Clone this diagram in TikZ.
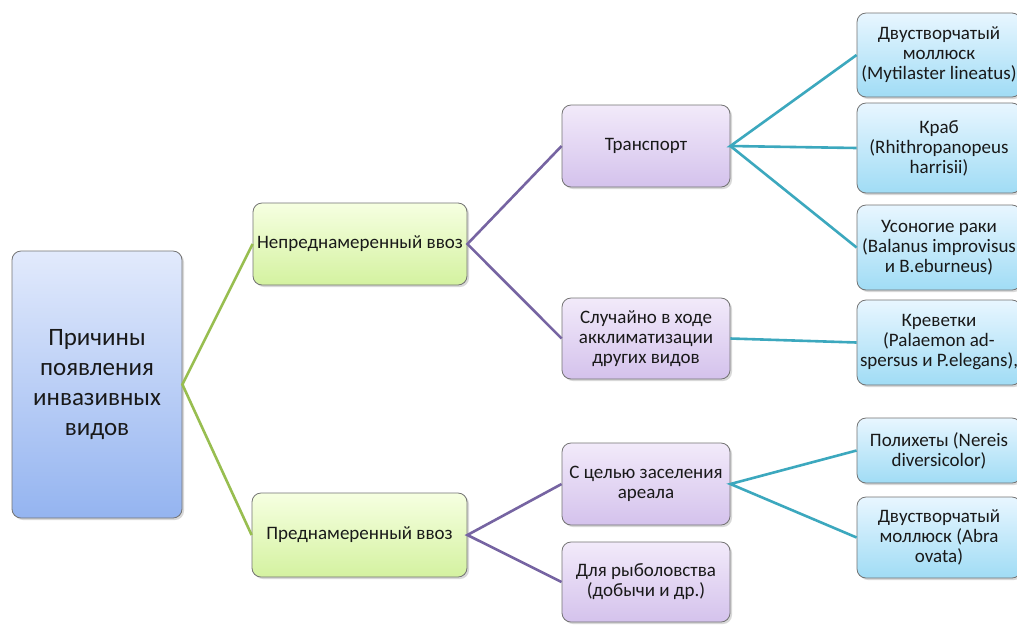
\documentclass[tikz,border=0pt]{standalone}
\usepackage{fontspec}
\setmainfont{Carlito}
\usetikzlibrary{shadows}
\tikzset{
  box/.style={draw=black!55, line width=0.8pt, rounded corners=9pt, align=center,
    inner sep=2pt, font=\fontsize{19}{20}\selectfont, text=black!90,
    drop shadow={shadow xshift=2pt, shadow yshift=-2pt, fill=black!25, opacity=0.6}},
  rootbox/.style={box, top color={rgb,255:red,226;green,234;blue,252}, bottom color={rgb,255:red,148;green,180;blue,240}, font=\fontsize{25}{30}\selectfont},
  greenbox/.style={box, top color={rgb,255:red,246;green,255;blue,225}, bottom color={rgb,255:red,212;green,242;blue,160}},
  purplebox/.style={box, top color={rgb,255:red,242;green,234;blue,250}, bottom color={rgb,255:red,212;green,194;blue,236}},
  cyanbox/.style={box, top color={rgb,255:red,232;green,246;blue,255}, bottom color={rgb,255:red,160;green,220;blue,245}},
  gline/.style={draw={rgb,255:red,152;green,190;blue,80}, line width=2.6pt},
  pline/.style={draw={rgb,255:red,118;green,100;blue,162}, line width=2.6pt},
  cline/.style={draw={rgb,255:red,60;green,168;blue,190}, line width=2.6pt},
}
\begin{document}
\begin{tikzpicture}[x=1pt,y=-1pt]
\useasboundingbox[fill=white] (0,0) rectangle (1017,625);
\clip (0,0) rectangle (1017,625);
\node[rootbox, minimum width=170pt, minimum height=267pt] (root) at (97,384.5) {Причины\\появления\\инвазивных\\видов};
\node[greenbox, minimum width=214pt, minimum height=82pt] (un) at (360,244) {Непреднамеренный ввоз};
\node[greenbox, minimum width=215pt, minimum height=84pt] (in) at (359.5,535) {Преднамеренный ввоз};
\node[purplebox, minimum width=168pt, minimum height=82pt] (tr) at (646,146) {Транспорт};
\node[purplebox, minimum width=168pt, minimum height=81pt] (sl) at (646,338.5) {Случайно в ходе\\акклиматизации\\других видов};
\node[purplebox, minimum width=168pt, minimum height=82pt] (ce) at (646,484) {С целью заселения\\ареала};
\node[purplebox, minimum width=168pt, minimum height=80pt] (dl) at (646,582) {Для рыболовства\\(добычи и др.)};
\node[cyanbox, minimum width=164pt, minimum height=84pt] (b1) at (939,55) {Двустворчатый\\моллюск\\(Mytilaster lineatus)};
\node[cyanbox, minimum width=164pt, minimum height=90pt] (b2) at (939,148) {Краб\\(Rhithropanopeus\\harrisii)};
\node[cyanbox, minimum width=164pt, minimum height=85pt] (b3) at (939,247.5) {Усоногие раки\\(Balanus improvisus\\и B.eburneus)};
\node[cyanbox, minimum width=164pt, minimum height=85pt] (b4) at (939,342.5) {Креветки\\(Palaemon ad-\\spersus и P.elegans),};
\node[cyanbox, minimum width=164pt, minimum height=65pt] (b5) at (939,450.5) {Полихеты (Nereis\\diversicolor)};
\node[cyanbox, minimum width=164pt, minimum height=81pt] (b6) at (939,537.5) {Двустворчатый\\моллюск (Abra\\ovata)};
\draw[gline] (un.west) -- (root.east) -- (in.west);
\draw[pline] (tr.west) -- (un.east) -- (sl.west);
\draw[pline] (ce.west) -- (in.east) -- (dl.west);
\draw[cline] (b1.west) -- (tr.east) -- (b2.west);
\draw[cline] (tr.east) -- (b3.west);
\draw[cline] (sl.east) -- (b4.west);
\draw[cline] (b5.west) -- (ce.east) -- (b6.west);
\end{tikzpicture}
\end{document}
